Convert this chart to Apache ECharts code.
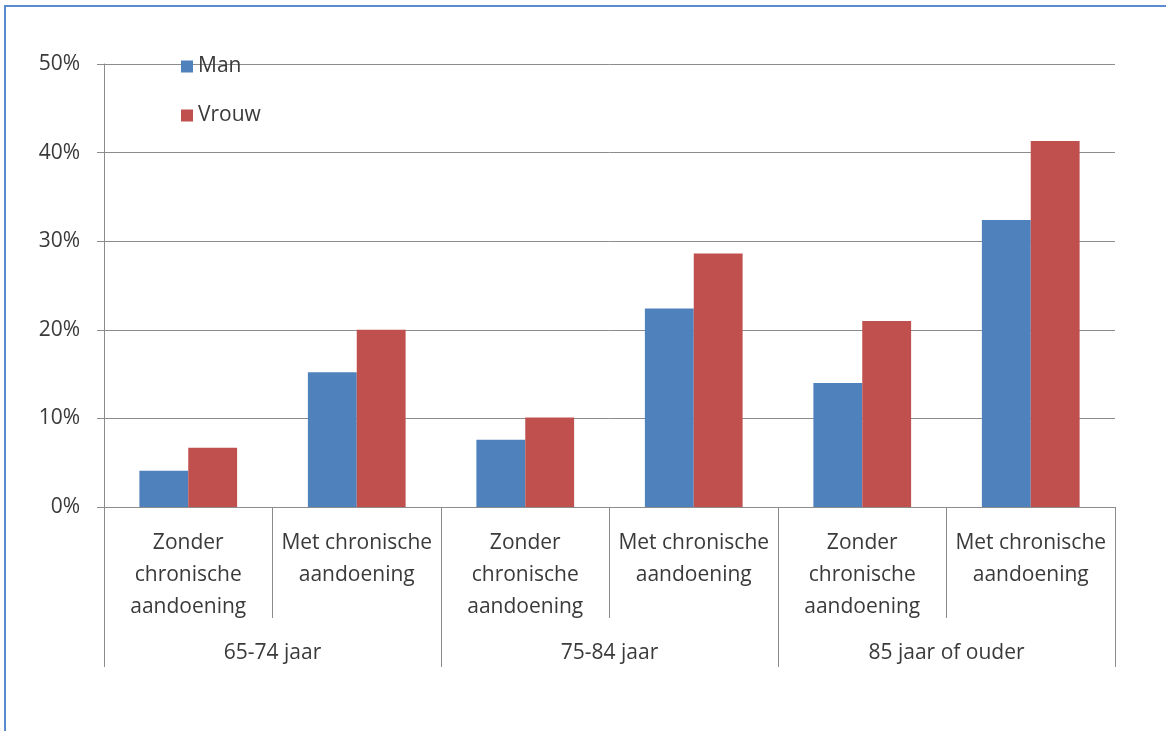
<!DOCTYPE html>
<html>
<head>
<meta charset="utf-8">
<script src="https://cdn.jsdelivr.net/npm/echarts@6/dist/echarts.min.js"></script>
<style>
  html, body { margin: 0; padding: 0; background: #fff; }
  #wrap { position: relative; width: 1166px; height: 731px; overflow: hidden; }
  #chart { position: absolute; left: 0; top: 0; width: 1166px; height: 731px; }
  #frame {
    position: absolute; left: 4px; top: 5px; width: 1200px; height: 800px;
    border-left: 2px solid #5b8bcf; border-top: 2px solid #5b8bcf;
    pointer-events: none;
  }
</style>
</head>
<body>
<div id="wrap">
  <div id="chart"></div>
  <div id="frame"></div>
</div>
<script>
// sub-categories (one per bar pair) and age groups
const subCategories = [
  'Zonder\nchronische\naandoening', 'Met chronische\naandoening',
  'Zonder\nchronische\naandoening', 'Met chronische\naandoening',
  'Zonder\nchronische\naandoening', 'Met chronische\naandoening'
]
const ageGroups = ['65-74 jaar', '75-84 jaar', '85 jaar of ouder']
const seriesNames = ['Man', 'Vrouw']

// percentages
const manValues = [4.1, 15.2, 7.6, 22.4, 14.0, 32.4]
const vrouwValues = [6.7, 20.0, 10.1, 28.6, 21.0, 41.3]

const yTicks = { min: 0, max: 50, interval: 10 }

const textColor = '#3a3a3a'
const lineColor = '#8c8c8c'
const fontFamily = '"Open Sans", Lato, sans-serif'
const fontSize = 21

const chart = echarts.init(document.getElementById('chart'))

chart.setOption({
  animation: false,
  textStyle: { fontFamily },
  legend: {
    orient: 'vertical',
    left: 176,
    top: 51,
    itemWidth: 12,
    itemHeight: 12,
    itemGap: 28,
    icon: 'rect',
    data: seriesNames,
    textStyle: { color: textColor, fontSize, fontFamily }
  },
  grid: { left: 104, right: 51, top: 64, bottom: 224, containLabel: false },
  xAxis: [
    {
      type: 'category',
      data: subCategories,
      position: 'bottom',
      axisLine: { show: true, lineStyle: { color: lineColor, width: 1 } },
      axisTick: { show: true, interval: 0, length: 111, lineStyle: { color: lineColor } },
      axisLabel: {
        interval: 0,
        margin: 20,
        color: textColor,
        fontSize,
        lineHeight: 32,
        fontFamily
      }
    },
    {
      type: 'category',
      data: ageGroups,
      position: 'bottom',
      axisLine: { show: false },
      axisTick: { show: true, interval: 0, length: 160, lineStyle: { color: lineColor } },
      axisLabel: {
        interval: 0,
        margin: 136,
        color: textColor,
        fontSize,
        fontFamily
      }
    }
  ],
  yAxis: {
    type: 'value',
    min: yTicks.min,
    max: yTicks.max,
    interval: yTicks.interval,
    axisLine: { show: true, lineStyle: { color: lineColor } },
    axisTick: { show: true, length: 7, lineStyle: { color: lineColor } },
    splitLine: { lineStyle: { color: lineColor, width: 1 } },
    axisLabel: {
      formatter: '{value}%',
      margin: 24,
      color: textColor,
      fontSize,
      fontFamily
    }
  },
  series: [
    {
      name: seriesNames[0],
      type: 'bar',
      xAxisIndex: 0,
      data: manValues,
      barGap: '0%',
      barCategoryGap: '42%',
      itemStyle: { color: '#4f81bd' }
    },
    {
      name: seriesNames[1],
      type: 'bar',
      xAxisIndex: 0,
      data: vrouwValues,
      barGap: '0%',
      barCategoryGap: '42%',
      itemStyle: { color: '#c0504d' }
    }
  ]
})
</script>
</body>
</html>
